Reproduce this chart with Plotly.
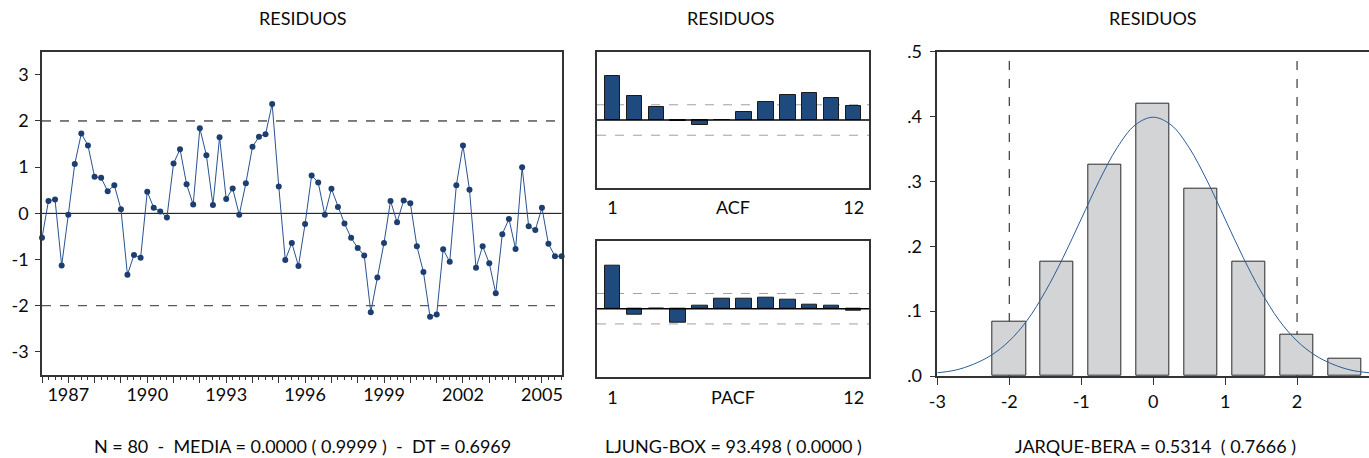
import plotly.graph_objects as go
import pandas as pd

# ---------------- data ----------------
resid = [-0.53, 0.27, 0.30, -1.13, -0.03, 1.07, 1.73, 1.47, 0.79, 0.77,
         0.48, 0.61, 0.09, -1.33, -0.90, -0.96, 0.47, 0.12, 0.04, -0.09,
         1.08, 1.39, 0.63, 0.19, 1.84, 1.26, 0.18, 1.65, 0.31, 0.54,
         -0.03, 0.65, 1.44, 1.66, 1.71, 2.37, 0.58, -1.01, -0.64, -1.14,
         -0.23, 0.82, 0.67, -0.03, 0.53, 0.14, -0.22, -0.53, -0.75, -0.91,
         -2.14, -1.39, -0.64, 0.27, -0.19, 0.28, 0.22, -0.71, -1.27, -2.24,
         -2.19, -0.78, -1.05, 0.61, 1.47, 0.51, -1.18, -0.71, -1.08, -1.73,
         -0.45, -0.12, -0.77, 1.00, -0.28, -0.36, 0.12, -0.66, -0.93, -0.93]
first_quarter = "1986-01-01"
dates = pd.date_range(first_quarter, periods=len(resid), freq="QS")
year_ticks = list(range(1986, 2006))
year_labels = [1987, 1990, 1993, 1996, 1999, 2002, 2005]
ts_yticks = [-3, -2, -1, 0, 1, 2, 3]

lags = list(range(1, 13))
acf = [0.64, 0.36, 0.19, -0.02, -0.08, 0.005, 0.12, 0.26, 0.37, 0.39, 0.32, 0.20]
pacf = [0.63, -0.09, 0.0, -0.21, 0.04, 0.14, 0.15, 0.16, 0.13, 0.06, 0.04, -0.03]
band = 0.224

hist_centers = [-2.0, -1.333, -0.667, 0.0, 0.667, 1.333, 2.0, 2.667]
hist_density = [0.083, 0.176, 0.326, 0.420, 0.289, 0.176, 0.064, 0.027]
curve_x = [-3.0, -2.75, -2.5, -2.25, -2.0, -1.75, -1.5, -1.25, -1.0, -0.75, -0.5, -0.25, 0.0,
           0.25, 0.5, 0.75, 1.0, 1.25, 1.5, 1.75, 2.0, 2.25, 2.5, 2.75, 3.0]
curve_y = [0.005, 0.009, 0.018, 0.032, 0.054, 0.086, 0.130, 0.183, 0.242, 0.301, 0.352, 0.387, 0.399,
           0.387, 0.352, 0.301, 0.242, 0.183, 0.130, 0.086, 0.054, 0.032, 0.018, 0.009, 0.005]
hist_xticks = [-3, -2, -1, 0, 1, 2, 3]
hist_yticks = [0.0, 0.1, 0.2, 0.3, 0.4, 0.5]
hist_ylabels = [".0", ".1", ".2", ".3", ".4", ".5"]

title_text = "RESIDUOS"
stat_ts = "N = 80  -  MEDIA = 0.0000 ( 0.9999 )  -  DT = 0.6969"
stat_lb = "LJUNG-BOX = 93.498 ( 0.0000 )"
stat_jb = "JARQUE-BERA = 0.5314  ( 0.7666 )"

# ---------------- styles ----------------
W, H = 1369, 458
FONT = dict(family="Lato, 'Open Sans', sans-serif", size=18, color="#0a0a0a")
NAVY = "#2a5290"
BAR = "#1f4a7d"
AXC = "#333333"


def px(xp):
    return xp / W


def py(yp):
    return 1 - yp / H


fig = go.Figure()

# time series
fig.add_trace(go.Scatter(x=dates, y=resid, mode="lines+markers",
                         line=dict(color=NAVY, width=1),
                         marker=dict(color="#1d3f70", size=6),
                         xaxis="x", yaxis="y", hoverinfo="skip", cliponaxis=False))

# ACF / PACF
fig.add_trace(go.Bar(x=lags, y=acf, width=0.7, marker=dict(color=BAR, line=dict(color="#1a1a1a", width=1)),
                     xaxis="x2", yaxis="y2"))
fig.add_trace(go.Bar(x=lags, y=pacf, width=0.7, marker=dict(color=BAR, line=dict(color="#1a1a1a", width=1)),
                     xaxis="x3", yaxis="y3"))

# histogram
fig.add_trace(go.Bar(x=hist_centers, y=hist_density, width=0.46,
                     marker=dict(color="#d3d4d6", line=dict(color="#2a2a2a", width=1)),
                     xaxis="x4", yaxis="y4"))
fig.add_trace(go.Scatter(x=curve_x, y=curve_y, mode="lines", line=dict(color="#2c5b94", width=1, shape="spline"),
                         xaxis="x4", yaxis="y4", hoverinfo="skip"))

shapes = []
# time-series reference lines
shapes.append(dict(type="line", xref="x domain", yref="y", x0=0, x1=1, y0=0, y1=0,
                   line=dict(color="#000000", width=1), layer="below"))
shapes.append(dict(type="line", xref="x domain", yref="y", x0=0, x1=1, y0=2, y1=2,
                   line=dict(color="#000000", width=1, dash="dash"), layer="below"))
shapes.append(dict(type="line", xref="x domain", yref="y", x0=0, x1=1, y0=-2, y1=-2,
                   line=dict(color="#5a5a5a", width=1.3, dash="dash"), layer="below"))
# ACF/PACF bands and zero lines
for xr, yr in (("x2", "y2"), ("x3", "y3")):
    for b in (band, -band):
        shapes.append(dict(type="line", xref=xr + " domain", yref=yr, x0=0, x1=1, y0=b, y1=b,
                           line=dict(color="#a0a0a0", width=1, dash="dash"), layer="below"))
    shapes.append(dict(type="line", xref=xr + " domain", yref=yr, x0=0, x1=1, y0=0, y1=0,
                       line=dict(color="#000000", width=1.5), layer="above"))
# histogram +-2 lines
for v in (-2, 2):
    shapes.append(dict(type="line", xref="x4", yref="y4 domain", x0=v, x1=v, y0=0, y1=1,
                       line=dict(color="#111111", width=1, dash="dash"), layer="below"))

axis_common = dict(showgrid=False, zeroline=False, showline=True, linecolor=AXC, linewidth=1.5,
                   tickfont=FONT, tickcolor=AXC, automargin=False)

ts_y0, ts_y1 = py(375), py(51.7)
acf_y0, acf_y1 = py(188), py(52)
pacf_y0, pacf_y1 = py(376.7), py(240.7)

fig.update_layout(
    width=W, height=H, margin=dict(l=0, r=0, t=0, b=0, autoexpand=False),
    paper_bgcolor="white", plot_bgcolor="white", showlegend=False,
    font=FONT, bargap=0,
    shapes=shapes,
    xaxis=dict(axis_common, domain=[px(42), px(561.6)], anchor="y", type="date",
               range=[dates[0], dates[-1]],
               tickvals=[pd.Timestamp(f"{y}-01-01") for y in year_ticks],
               ticktext=[str(y) if y in year_labels else "" for y in year_ticks],
               ticks="outside", ticklen=6, tickwidth=1, mirror=True, ticklabelstandoff=-3,
               minor=dict(dtick="M3", tick0=first_quarter, ticks="outside", ticklen=3,
                          tickcolor=AXC, tickwidth=1, showgrid=False)),
    yaxis=dict(axis_common, domain=[ts_y0, ts_y1], anchor="x", range=[-3.5, 3.5],
               tickvals=ts_yticks, ticktext=[str(v) for v in ts_yticks],
               ticks="outside", ticklen=5, tickwidth=1, mirror=True, ticklabelstandoff=3),
    xaxis2=dict(axis_common, domain=[px(597), px(869)], anchor="y2", range=[0.3, 12.7],
                tickvals=[1, 6.5, 12], ticktext=["1", "ACF", "12"], ticks="", mirror=True,
                ticklabelstandoff=3),
    yaxis2=dict(axis_common, domain=[acf_y0, acf_y1], anchor="x2", range=[-1, 1],
                showticklabels=False, ticks="", mirror=True),
    xaxis3=dict(axis_common, domain=[px(597), px(869)], anchor="y3", range=[0.3, 12.7],
                tickvals=[1, 6.5, 12], ticktext=["1", "PACF", "12"], ticks="", mirror=True,
                ticklabelstandoff=4),
    yaxis3=dict(axis_common, domain=[pacf_y0, pacf_y1], anchor="x3", range=[-1, 1],
                showticklabels=False, ticks="", mirror=True),
    xaxis4=dict(axis_common, domain=[px(937.3), 1.0], anchor="y4", range=[-3, 3],
                tickvals=hist_xticks, ticktext=[str(v) for v in hist_xticks],
                ticks="outside", ticklen=7, tickwidth=1, mirror=True, ticklabelstandoff=2),
    yaxis4=dict(axis_common, domain=[py(376), py(51.7)], anchor="x4", range=[0, 0.5],
                tickvals=hist_yticks, ticktext=hist_ylabels,
                ticks="outside", ticklen=6, tickwidth=1, mirror=False, ticklabelstandoff=4),
)

ann = []
for xc in (303, 731, 1153):
    ann.append(dict(text=title_text, x=px(xc), y=py(18), xref="paper", yref="paper",
                    showarrow=False, font=FONT, xanchor="center", yanchor="middle"))
for xc, t in ((302, stat_ts), (733, stat_lb), (1155, stat_jb)):
    ann.append(dict(text=t, x=px(xc), y=py(446), xref="paper", yref="paper",
                    showarrow=False, font=FONT, xanchor="center", yanchor="middle"))
fig.update_layout(annotations=ann)

fig.write_html("out.html")
